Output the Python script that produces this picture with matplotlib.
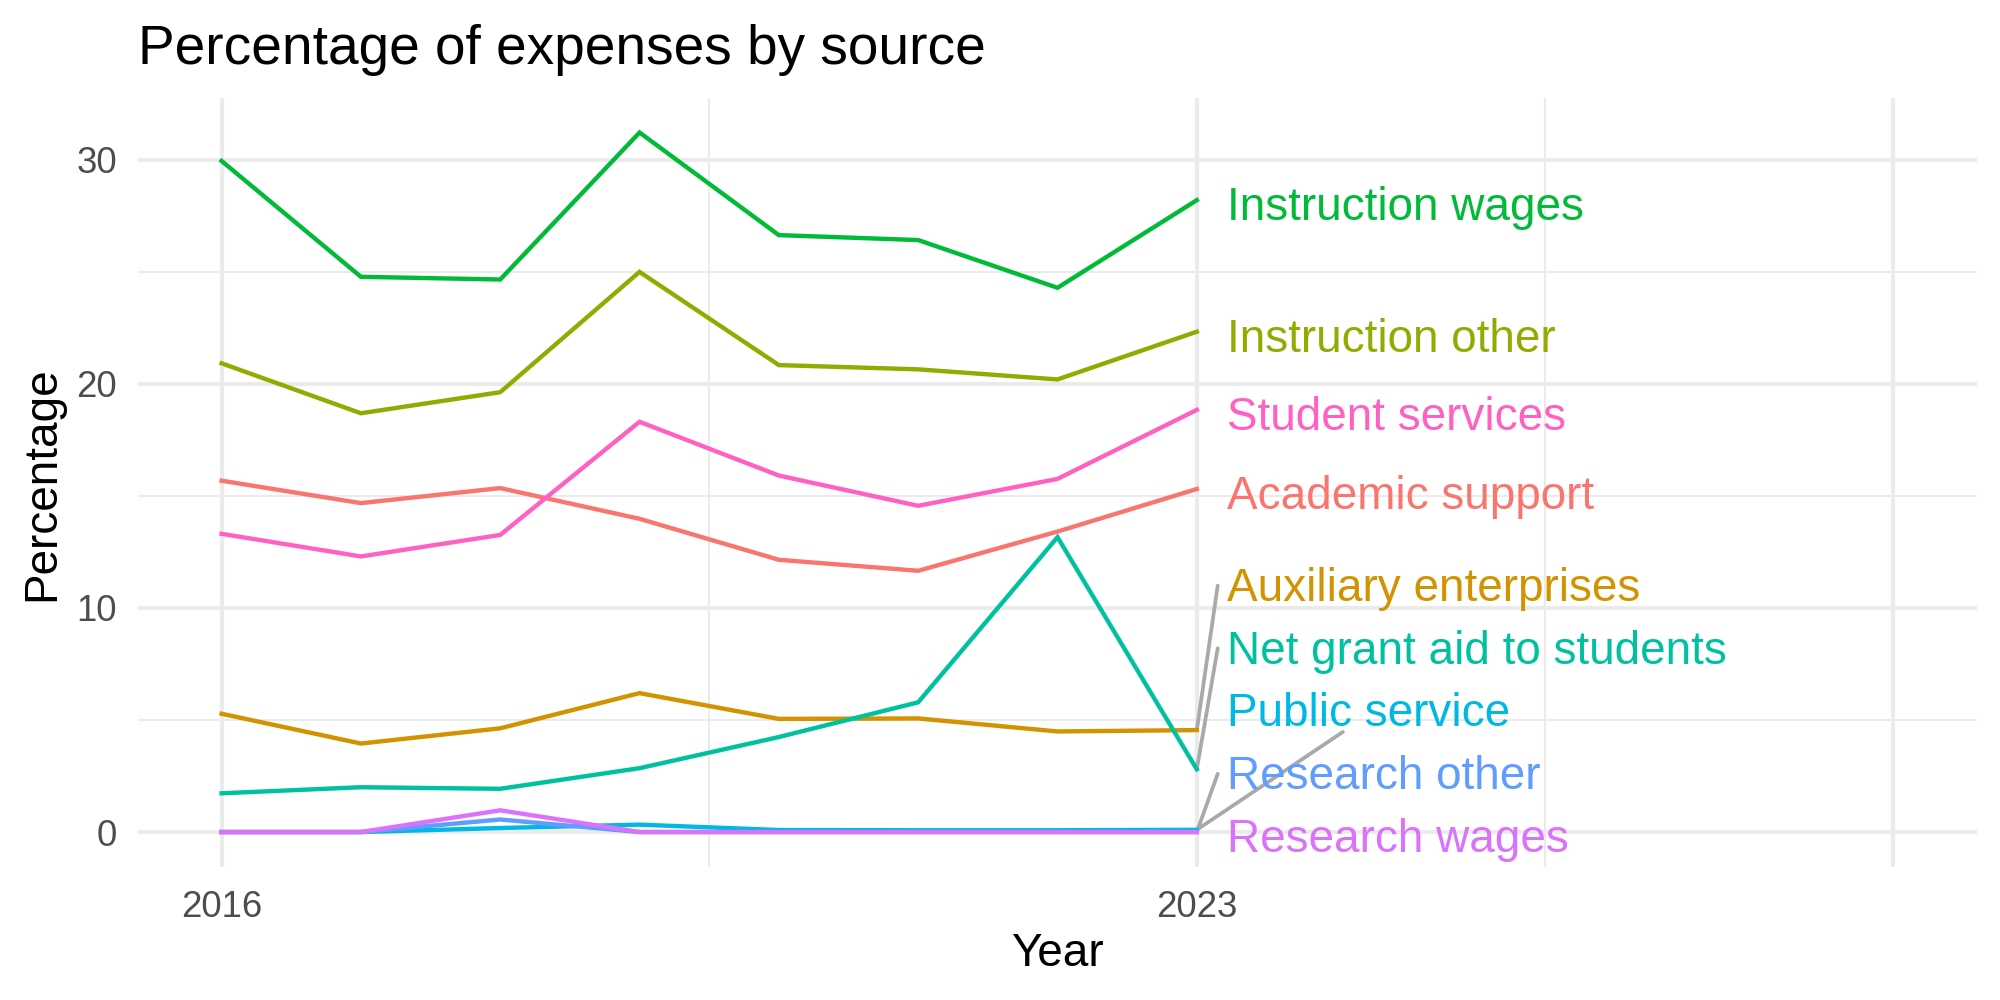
import numpy as np
import matplotlib
matplotlib.use('Agg')
import matplotlib.pyplot as plt

plt.rcParams['font.family'] = ['Liberation Sans', 'DejaVu Sans']

# data
years = [2016, 2017, 2018, 2019, 2020, 2021, 2022, 2023]
sources = ['Academic support', 'Auxiliary enterprises', 'Instruction other',
           'Instruction wages', 'Net grant aid to students', 'Public service',
           'Research other', 'Research wages', 'Student services']
academic_support = [15.68, 14.68, 15.35, 13.98, 12.15, 11.66, 13.41, 15.31]
auxiliary_enterprises = [5.28, 3.95, 4.63, 6.20, 5.05, 5.07, 4.49, 4.55]
instruction_other = [20.92, 18.69, 19.63, 25.00, 20.84, 20.65, 20.20, 22.33]
instruction_wages = [29.95, 24.78, 24.66, 31.22, 26.64, 26.42, 24.29, 28.20]
net_grant_aid = [1.73, 2.00, 1.93, 2.85, 4.24, 5.79, 13.16, 2.80]
public_service = [0.0, 0.0, 0.18, 0.33, 0.09, 0.08, 0.08, 0.10]
research_other = [0.0, 0.0, 0.56, 0.0, 0.0, 0.0, 0.0, 0.0]
research_wages = [0.0, 0.0, 0.97, 0.0, 0.0, 0.0, 0.0, 0.0]
student_services = [13.31, 12.30, 13.26, 18.31, 15.91, 14.56, 15.76, 18.84]

values = [academic_support, auxiliary_enterprises, instruction_other,
          instruction_wages, net_grant_aid, public_service,
          research_other, research_wages, student_services]

# ggplot hue palette, 9 levels
colors = ['#F8766D', '#D39200', '#93AA00', '#00BA38', '#00C19F',
          '#00B9E3', '#619CFF', '#DB72FB', '#FF61C3']

x_breaks = [2016, 2023, 2028]
x_labels = ['2016', '2023', '']
y_breaks = [0, 10, 20, 30]

fig = plt.figure(figsize=(2000 / 300, 1000 / 300), dpi=300)
ax = fig.add_axes([138 / 2000, 1 - 867 / 1000, (1977 - 138) / 2000, (867 - 98) / 1000])

grid_col = '#EBEBEB'
ax.set_xlim(2015.4, 2028.6)
ax.set_ylim(-1.56, 32.76)
ax.set_xticks(x_breaks)
ax.set_xticklabels(x_labels)
ax.set_yticks(y_breaks)
ax.set_xticks([2019.5, 2025.5], minor=True)
ax.set_yticks([5, 15, 25], minor=True)
ax.grid(which='major', color=grid_col, lw=1.0)
ax.grid(which='minor', color=grid_col, lw=0.5)
ax.set_axisbelow(True)
for s in ax.spines.values():
    s.set_visible(False)
ax.tick_params(which='both', length=0)
ax.tick_params(axis='y', pad=5, labelsize=8.8, labelcolor='#4D4D4D')
ax.tick_params(axis='x', pad=5.6, labelsize=8.8, labelcolor='#4D4D4D')

for vals, col in zip(values, colors):
    ax.plot(years, vals, color=col, lw=1.05, solid_joinstyle='miter', zorder=3)

# direct labels, pushed apart like ggrepel
label_x = 2023.22
gap = 2.8
shift = -0.35  # text box centre vs glyph centre
last = [v[-1] for v in values]
order = sorted(range(len(sources)), key=lambda i: (last[i], -i))
label_y = {}
prev = -np.inf
for i in order:
    y = max(last[i], prev + gap)
    label_y[i] = y
    prev = y

fig.canvas.draw()
renderer = fig.canvas.get_renderer()
for i, name in enumerate(sources):
    ly = label_y[i] + shift
    t = ax.text(label_x, ly, name, color=colors[i], fontsize=11,
                ha='left', va='center', zorder=4)
    if abs(label_y[i] - last[i]) > 1.0:
        if name == 'Public service':
            bb = t.get_window_extent(renderer).transformed(ax.transData.inverted())
            cx, cy = (bb.x0 + bb.x1) / 2, (bb.y0 + bb.y1) / 2
            ey = bb.y0 + 0.2
            ex = 2023 + (cx - 2023) * (ey - last[i]) / (cy - last[i])
        else:
            ex, ey = label_x - 0.07, ly + 0.15
        ax.plot([2023, ex], [last[i], ey], color='#A9A9A9', lw=0.9,
                solid_capstyle='round', zorder=2)

fig.text(138 / 2000, 0.936, 'Percentage of expenses by source', fontsize=13.2,
         ha='left', va='baseline')
fig.text(42 / 2000, 1 - 484 / 1000, 'Percentage', fontsize=11, rotation=90,
         ha='center', va='center')
fig.text(1057 / 2000, 1 - 954 / 1000, 'Year', fontsize=11, ha='center', va='center')

fig.savefig('out.png', dpi=300, facecolor='white')
